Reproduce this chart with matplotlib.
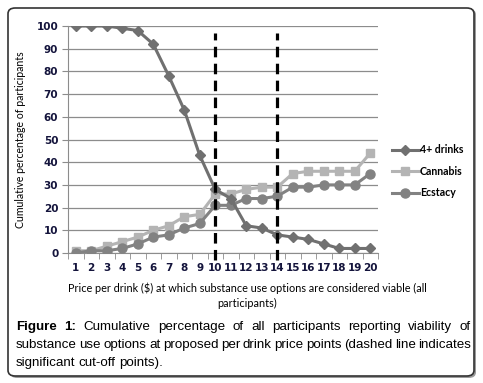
# Cumulative percentage of participants vs price per drink
import matplotlib
matplotlib.use("Agg")
import matplotlib.pyplot as plt
from matplotlib.patches import FancyBboxPatch

prices = list(range(1, 21))
drinks = [100, 100, 100, 99, 98, 92, 78, 63, 43, 28, 24, 12, 11, 8, 7, 6, 4, 2, 2, 2]
cannabis = [1, 1, 3, 5, 7, 10, 12, 16, 17, 26, 26, 28, 29, 29, 35, 36, 36, 36, 36, 44]
ecstacy = [0, 1, 1, 2, 4, 7, 8, 11, 13, 21, 21, 24, 24, 25, 29, 29, 30, 30, 30, 35]
cutoffs = [10, 14]

W, H = 483, 383
fig = plt.figure(figsize=(W / 100, H / 100), dpi=100)

# outer rounded frame with a little shadow
shadow = FancyBboxPatch((10 / W, 5 / H), 466 / W, 369 / H, transform=fig.transFigure,
                        boxstyle="round,pad=0,rounding_size=0.015", fc="#9a9a9a", ec="none", zorder=-3)
frame = FancyBboxPatch((8 / W, 7 / H), 466 / W, 368 / H, transform=fig.transFigure,
                       boxstyle="round,pad=0,rounding_size=0.015", fc="white", ec="#333333", lw=1.2,
                       zorder=-2)
fig.patches.extend([shadow, frame])

ax = fig.add_axes([68 / W, 130 / H, 310 / W, 227 / H])
ax.set_facecolor("none")

ax.plot(prices, drinks, color="#707070", lw=2.2, marker="D", ms=5, label="4+ drinks", zorder=4)
ax.plot(prices, cannabis, color="#b4b4b4", lw=2.2, marker="s", ms=6, label="Cannabis", zorder=3)
ax.plot(prices, ecstacy, color="#828282", lw=2.2, marker="o", ms=6.5, label="Ecstacy", zorder=3)

for c in cutoffs:
    ax.plot([c, c], [-3, 97], color="black", lw=2.3, dashes=(3.3, 2.0), clip_on=False, zorder=5)

ax.set_xlim(0.5, 20.5)
ax.set_ylim(0, 100)
ax.set_yticks(range(0, 101, 10))
ax.set_xticks(prices)
ax.set_xticks([p + 0.5 for p in range(0, 21)], minor=True)
ax.grid(axis="y", color="#8c8c8c", lw=0.9)
ax.set_axisbelow(True)
for s in ["top", "right"]:
    ax.spines[s].set_visible(False)
for s in ["left", "bottom"]:
    ax.spines[s].set_color("#8c8c8c")
ax.tick_params(axis="x", which="major", length=0, pad=7, labelsize=7.5, labelcolor="#14143c")
ax.tick_params(axis="x", which="minor", length=4, color="#8c8c8c")
ax.tick_params(axis="y", length=4, color="#8c8c8c", labelsize=7.5, labelcolor="#14143c", pad=3)
for t in ax.get_xticklabels() + ax.get_yticklabels():
    t.set_fontweight("bold")

ax.set_ylabel("Cumulative percentage of participants", fontsize=7.6, family="Lato")
ax.yaxis.set_label_coords(-0.135, 0.5)
fig.text(247 / W, 1 - 296 / H,
         "Price per drink ($) at which substance use options are considered viable (all\nparticipants)",
         ha="center", va="center", fontsize=7.8, family="Lato", linespacing=1.45)

ax.legend(loc="center left", bbox_to_anchor=(1.03, 0.36), frameon=False,
          handlelength=2.6, handletextpad=0.1, labelspacing=1.0, borderaxespad=0,
          prop={"family": "Lato", "weight": "bold", "size": 7.6})

# justified caption
lines = [
    ["Figure", "1:", "Cumulative", "percentage", "of", "all", "participants", "reporting", "viability", "of"],
    ["substance", "use", "options", "at", "proposed", "per", "drink", "price", "points", "(dashed", "line", "indicates"],
    ["significant", "cut-off", "points)."],
]
ys = [327, 345, 363]
x0, x1 = 16, 471
renderer = fig.canvas.get_renderer()
for i, (words, y) in enumerate(zip(lines, ys)):
    texts = []
    for j, w in enumerate(words):
        bold = i == 0 and j < 2
        t = fig.text(0, 1 - y / H, w, ha="left", va="center", fontsize=9.6,
                     family="Liberation Sans", fontweight="bold" if bold else "normal")
        texts.append(t)
    widths = [t.get_window_extent(renderer).width for t in texts]
    if i < len(lines) - 1:
        gap = (x1 - x0 - sum(widths)) / (len(words) - 1)
    else:
        gap = 3.2
    x = x0
    for t, wd in zip(texts, widths):
        t.set_x(x / W)
        x += wd + gap

fig.savefig("out.png", dpi=100)
